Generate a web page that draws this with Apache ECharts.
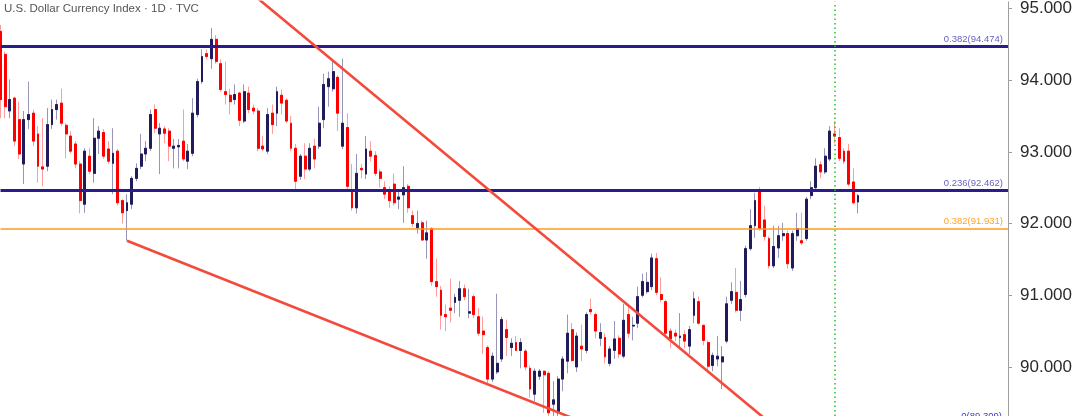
<!DOCTYPE html>
<html><head><meta charset="utf-8">
<script src="https://cdn.jsdelivr.net/npm/echarts@6/dist/echarts.min.js"></script>
<style>html,body{margin:0;padding:0;background:#fff;}#c{width:1080px;height:416px;}</style>
</head><body><div id="c"></div>
<script>
const chartTitle = 'U.S. Dollar Currency Index · 1D · TVC';
const openV = [
94.68,94.36,93.57,93.75,93.45,92.83,93.45,93.54,93.25,92.79,
92.80,93.38,93.59,93.68,93.37,93.22,93.11,92.83,92.27,92.94,
92.70,93.19,93.27,93.04,92.84,93.01,92.32,92.18,92.27,92.63,
92.80,92.97,93.05,93.59,93.25,93.32,93.29,93.05,93.07,93.15,
92.87,92.98,93.52,93.98,94.37,94.30,94.57,94.23,93.84,93.79,
93.73,93.82,93.43,93.82,93.61,93.57,93.08,93.01,93.54,93.54,
93.79,93.72,93.40,93.05,92.66,92.94,92.76,93.08,93.08,93.45,
93.91,93.88,94.04,93.08,93.34,92.45,92.22,92.77,92.69,93.01,
92.95,92.72,92.50,92.45,92.55,92.34,92.40,92.52,92.11,91.94,
92.01,91.77,91.93,91.19,91.07,90.73,90.82,90.90,90.93,91.09,
90.75,90.98,90.70,90.50,90.27,89.83,89.93,90.11,90.52,90.27,
90.34,90.23,90.22,89.98,89.62,89.87,89.94,89.91,89.48,89.36,
89.83,90.08,90.52,90.00,90.29,90.23,90.80,90.73,90.40,90.41,
90.05,90.23,90.40,90.15,90.73,90.57,90.61,91.00,91.05,91.12,
91.51,91.01,90.91,90.50,90.47,90.41,90.45,90.29,90.72,90.91,
90.58,90.34,90.02,90.11,90.07,90.36,90.93,91.04,90.79,91.01,
91.65,91.97,92.45,92.05,91.79,91.41,91.66,91.83,91.86,91.38,
91.83,91.76,91.79,92.39,92.50,92.82,92.72,92.90,93.25,93.20,
93.01,93.01,92.58,92.30];
const closeV = [
93.73,93.63,93.73,93.15,92.97,93.45,93.52,93.15,92.80,92.76,
93.38,93.59,93.66,93.40,93.25,93.01,92.83,92.32,93.01,92.73,
93.19,93.29,92.94,92.87,92.98,92.29,92.15,92.29,92.63,92.77,
92.97,93.05,93.52,93.33,93.33,93.26,93.08,93.08,93.09,92.90,
93.01,93.54,93.98,94.33,94.33,94.57,94.26,93.87,93.80,93.70,
93.80,93.44,93.84,93.59,93.57,93.05,93.04,93.52,93.38,93.84,
93.68,93.43,93.05,92.59,92.94,92.76,93.05,92.90,93.40,93.94,
94.02,94.12,93.54,93.40,92.52,92.22,92.70,92.75,93.04,92.94,
92.70,92.63,92.41,92.32,92.29,92.37,92.50,92.22,92.00,92.00,
91.77,91.87,91.19,91.12,90.72,90.70,90.79,90.97,91.09,90.98,
90.77,90.73,90.47,90.45,89.83,90.15,90.05,90.66,90.41,90.33,
90.23,90.34,90.00,89.69,89.94,89.94,89.89,89.36,89.54,89.83,
90.11,90.47,90.09,90.43,90.25,90.73,90.77,90.50,90.48,90.14,
90.25,90.39,90.18,90.65,90.47,90.58,90.98,91.19,91.18,91.52,
91.04,90.94,90.47,90.39,90.43,90.43,90.36,90.52,90.95,90.61,
90.37,90.01,90.16,90.15,90.14,90.88,91.05,90.79,90.94,91.65,
91.97,92.32,91.93,91.82,91.41,91.68,91.83,91.86,91.44,91.86,
91.93,91.73,92.34,92.50,92.80,92.72,92.94,93.29,93.22,92.91,
92.87,92.55,92.29,92.39];
const lowV = [
93.47,93.47,93.47,93.08,92.90,92.55,93.32,93.08,92.57,92.52,
92.73,93.32,93.45,93.36,92.91,92.98,92.77,92.14,92.15,92.69,
92.57,92.97,92.90,92.83,92.41,92.25,92.00,91.76,92.20,92.59,
92.76,92.87,93.01,93.26,92.69,93.12,92.87,92.77,92.77,92.87,
92.76,92.94,93.48,93.95,94.30,94.16,94.23,93.84,93.66,93.52,
93.66,93.36,93.40,93.54,93.52,93.01,93.01,92.97,93.25,93.36,
93.52,93.40,93.01,92.48,92.61,92.62,92.73,92.77,93.04,93.33,
93.63,93.84,93.29,93.04,92.48,92.18,92.14,92.63,92.62,92.87,
92.66,92.50,92.34,92.22,92.25,92.20,92.01,92.15,91.95,91.86,
91.76,91.51,91.13,90.98,90.52,90.50,90.62,90.75,90.70,90.93,
90.68,90.68,90.43,90.18,89.76,89.79,89.90,90.07,90.15,90.15,
90.22,89.98,89.95,89.57,89.52,89.82,89.36,89.29,89.26,89.29,
89.66,89.91,90.07,89.93,90.08,90.19,90.73,90.40,90.29,90.05,
90.01,90.11,90.12,90.12,90.40,90.37,90.54,90.97,91.02,91.07,
91.00,90.90,90.44,90.26,90.36,90.26,90.26,90.18,90.61,90.59,
90.30,89.95,89.94,90.01,89.69,90.33,90.88,90.76,90.64,90.97,
91.62,91.80,91.90,91.76,91.37,91.38,91.52,91.76,91.37,91.34,
91.76,91.70,91.76,92.34,92.45,92.63,92.69,92.87,93.12,92.87,
92.83,92.52,92.27,92.14];
const highV = [
94.77,94.40,94.01,93.77,93.70,93.57,93.98,93.59,93.36,93.47,
93.61,93.73,93.73,93.88,93.40,93.29,93.15,92.87,93.05,93.05,
93.47,93.36,93.32,93.15,93.33,93.04,92.34,92.41,92.66,92.84,
93.25,93.15,93.59,93.66,93.40,93.36,93.33,93.18,93.18,93.59,
93.11,93.75,94.02,94.43,94.43,94.73,94.63,94.29,94.26,93.88,
93.94,93.84,93.94,93.91,93.66,93.61,93.22,93.61,93.66,93.91,
93.87,93.75,93.50,93.11,92.97,93.12,93.12,93.18,93.63,94.09,
94.12,94.26,94.07,94.30,93.54,92.83,92.97,92.83,93.22,93.15,
93.01,92.76,92.59,92.52,92.70,92.45,92.80,92.55,92.18,92.18,
92.04,92.04,91.95,91.51,91.13,90.87,91.23,91.02,91.20,91.15,
91.09,91.01,90.82,90.70,90.30,90.20,91.02,90.70,90.66,90.40,
90.43,90.40,90.25,90.02,89.98,89.97,89.95,89.94,89.80,89.87,
90.15,90.73,90.61,90.48,90.59,90.76,90.95,90.76,90.61,90.47,
90.29,90.64,90.44,90.88,90.84,90.70,91.12,91.30,91.32,91.58,
91.59,91.25,90.94,90.54,90.52,90.75,90.51,90.57,91.05,90.98,
90.59,90.37,90.20,90.43,90.29,90.98,91.18,91.38,91.20,91.69,
92.20,92.43,92.51,92.25,91.82,91.97,91.97,92.01,91.90,91.90,
92.15,92.15,92.37,92.59,92.91,92.87,93.05,93.36,93.43,93.33,
93.05,93.11,92.77,92.41];
const slotCount = 216;
const categories = Array.from({length: slotCount}, (_, i) => 'D' + i);
const yTicks = [90, 91, 92, 93, 94, 95];
const fibValues = [94.474, 92.462, 91.931];
const fibLabels = ['0.382(94.474)', '0.236(92.462)', '0.382(91.931)'];
const baseFibLabel = '0(89.309)';
const upperTrend = [[53, 95.244], [165, 89.176]];
const lowerTrend = [[27, 91.76], [125, 89.21]];
const markerCategory = 'D178';

const fibStyles = [
  {color: '#2b1c8e', width: 3, text: '#6a60c2'},
  {color: '#2b1c8e', width: 3, text: '#6a60c2'},
  {color: '#ff9a1f', width: 1.5, text: '#ffa229'}
];

const fullData = openV.map((o, i) => [o, closeV[i], lowV[i], highV[i]]);
const bodyData = openV.map((o, i) => [o, closeV[i], Math.min(o, closeV[i]), Math.max(o, closeV[i])]);

const chart = echarts.init(document.getElementById('c'), null, {renderer: 'canvas'});
chart.setOption({
  animation: false,
  backgroundColor: '#ffffff',
  title: {
    text: chartTitle, left: 4, top: 3, padding: 0,
    textStyle: {fontSize: 11.5, fontWeight: 'normal', color: '#555555', fontFamily: 'Liberation Sans'}
  },
  graphic: [{
    type: 'text', right: 78, top: 411, silent: true,
    style: {text: baseFibLabel, fill: '#3b3bd0', font: '9.5px "Liberation Sans"'}
  }],
  grid: {left: 0.5, right: 72, top: 0, bottom: 0},
  xAxis: {type: 'category', data: categories, boundaryGap: false, show: false},
  yAxis: {
    type: 'value', position: 'right', min: 89.315, max: 95.093, scale: true,
    axisLine: {show: true, lineStyle: {color: '#9e9e9e', width: 1}},
    axisTick: {show: true, length: 4, customValues: yTicks, lineStyle: {color: '#9e9e9e'}},
    axisLabel: {customValues: yTicks, margin: 12, fontSize: 17, color: '#2b2b2b',
      fontFamily: 'Liberation Sans', formatter: v => v.toFixed(3)},
    splitLine: {show: false}
  },
  series: [
    {
      type: 'candlestick', data: fullData, barWidth: 2.4, z: 2,
      itemStyle: {color: '#201c5c', color0: '#ff0000', borderColor: '#9795b8', borderColor0: '#ff9c9c', borderWidth: 1}
    },
    {
      type: 'candlestick', data: bodyData, barWidth: 2.4, z: 3,
      itemStyle: {color: '#201c5c', color0: '#ff0000', borderColor: '#201c5c', borderColor0: '#ff0000', borderWidth: 1}
    },
    {
      type: 'line', data: [], z: 5,
      markLine: {
        silent: true, symbol: 'none', animation: false,
        data: fibValues.map((v, i) => ({
          yAxis: v,
          lineStyle: {color: fibStyles[i].color, width: fibStyles[i].width, type: 'solid'},
          label: {show: true, formatter: fibLabels[i], position: 'insideEndTop', distance: [5, 2],
            color: fibStyles[i].text, fontSize: 9.5, fontFamily: 'Liberation Sans'}
        }))
      }
    },
    {
      type: 'line', data: [], z: 6,
      markLine: {
        silent: true, symbol: 'none', animation: false,
        data: [{xAxis: markerCategory, lineStyle: {color: '#22c322', width: 1.5, type: [1.5, 3]}, label: {show: false}}]
      }
    },
    {
      type: 'line', data: upperTrend, symbol: 'none', z: 7, silent: true,
      lineStyle: {color: '#f44a3c', width: 2.6}
    },
    {
      type: 'line', data: lowerTrend, symbol: 'none', z: 7, silent: true,
      lineStyle: {color: '#f44a3c', width: 2.6}
    }
  ]
});
</script></body></html>
